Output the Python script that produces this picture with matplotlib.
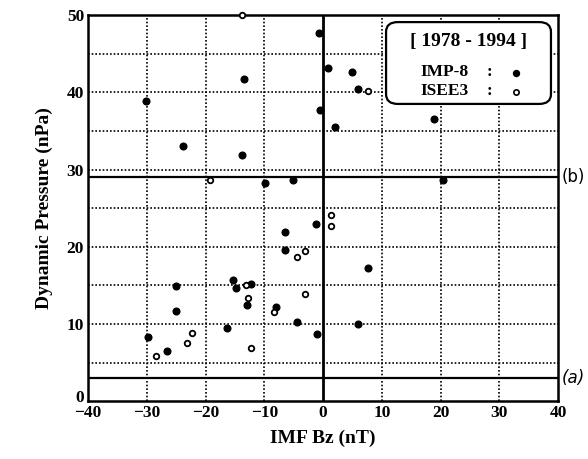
import numpy as np
import matplotlib.pyplot as plt
import matplotlib.transforms as mtransforms
from matplotlib.patches import FancyBboxPatch

# IMP-8 (filled) points
imp8_bz = [-0.7, 0.8, -13.5, -0.6, -30.1, -23.8, -13.8, -9.9, -5.2, 5.0, 6.0, 2.0,
           18.9, 20.5, -1.2, -6.5, -6.5, -25.1, -15.3, -14.9, -12.2, -13.0, -8.0,
           -25.1, -4.4, -16.3, -29.8, -26.6, -1.0, 7.7, 6.0]
imp8_p = [47.7, 43.1, 41.7, 37.7, 38.9, 33.0, 31.9, 28.3, 28.6, 42.6, 40.4, 35.5,
          36.5, 28.6, 22.9, 21.9, 19.6, 14.9, 15.7, 14.6, 15.2, 12.5, 12.2,
          11.7, 10.2, 9.5, 8.3, 6.5, 8.7, 17.2, 10.0]

# ISEE3 (open) points
isee_bz = [-13.8, -19.3, 7.6, -4.5, -3.1, -13.2, -12.8, -3.1, -8.4, -22.3, -23.2,
           -28.4, -12.2, 1.4, 1.4]
isee_p = [50.0, 28.6, 40.2, 18.7, 19.5, 15.0, 13.4, 13.9, 11.5, 8.8, 7.5,
          5.8, 6.9, 24.1, 22.7]

line_a = 3.0
line_b = 29.0

xticks = [-40, -30, -20, -10, 0, 10, 20, 30, 40]
yticks = [0, 10, 20, 30, 40, 50]

font = 'Liberation Serif'

fig = plt.figure(figsize=(5.88, 4.59), dpi=100)
ax = fig.add_axes([0.150, 0.126, 0.799, 0.841])

ax.set_xlim(-40, 40)
ax.set_ylim(0, 50)

# dotted grid
for x in range(-30, 40, 10):
    if x != 0:
        ax.axvline(x, color='black', lw=1.2, ls=(0, (1, 1.2)), zorder=1)
for y in range(5, 50, 5):
    ax.axhline(y, color='black', lw=1.2, ls=(0, (1, 1.2)), zorder=1)

ax.axvline(0, color='black', lw=2, zorder=2)
ax.axhline(line_a, color='black', lw=1.6, zorder=2)
ax.axhline(line_b, color='black', lw=1.6, zorder=2)

ax.plot(imp8_bz, imp8_p, 'o', color='black', ms=4.8, ls='none', zorder=3, clip_on=False)
ax.plot(isee_bz, isee_p, 'o', mfc='white', mec='black', mew=1.3, ms=4.0, ls='none',
        zorder=3, clip_on=False)

ax.set_xticks(xticks)
ax.set_yticks(yticks)
ax.tick_params(length=0, pad=3)
for lab in ax.get_xticklabels() + ax.get_yticklabels():
    lab.set_fontfamily(font)
    lab.set_fontweight('bold')
    lab.set_fontsize(12.5)
# lift the y "0" a bit so it clears the "-40"
zero = ax.get_yticklabels()[0]
zero.set_transform(zero.get_transform() + mtransforms.ScaledTranslation(0, 4 / 72, fig.dpi_scale_trans))

for s in ax.spines.values():
    s.set_linewidth(1.8)

ax.set_xlabel('IMF Bz (nT)', fontfamily=font, fontweight='bold', fontsize=14, labelpad=6)
ax.set_ylabel('Dynamic Pressure (nPa)', fontfamily=font, fontweight='bold', fontsize=14,
              labelpad=10)

# legend box
box = FancyBboxPatch((0.634, 0.770), 0.351, 0.212, boxstyle='round,pad=0,rounding_size=0.025',
                     transform=ax.transAxes, fc='white', ec='black', lw=1.6, zorder=5)
ax.add_patch(box)
ax.text(0.809, 0.932, '[ 1978 - 1994 ]', transform=ax.transAxes, ha='center', va='center',
        fontfamily=font, fontweight='bold', fontsize=14, zorder=6)
ax.text(0.708, 0.852, 'IMP-8', transform=ax.transAxes, ha='left', va='center',
        fontfamily=font, fontweight='bold', fontsize=12.5, zorder=6)
ax.text(0.708, 0.803, 'ISEE3', transform=ax.transAxes, ha='left', va='center',
        fontfamily=font, fontweight='bold', fontsize=12.5, zorder=6)
ax.text(0.853, 0.852, ':', transform=ax.transAxes, ha='center', va='center',
        fontfamily=font, fontweight='bold', fontsize=12.5, zorder=6)
ax.text(0.853, 0.803, ':', transform=ax.transAxes, ha='center', va='center',
        fontfamily=font, fontweight='bold', fontsize=12.5, zorder=6)
ax.plot([0.911], [0.850], 'o', color='black', ms=4.3, transform=ax.transAxes, zorder=6)
ax.plot([0.911], [0.800], 'o', mfc='white', mec='black', mew=1.2, ms=3.8,
        transform=ax.transAxes, zorder=6)

# hand-written tags
ax.text(40.6, line_b, '(b)', ha='left', va='center', fontsize=12, fontfamily='DejaVu Sans',
        clip_on=False)
ax.text(40.6, line_a, '(a)', ha='left', va='center', fontsize=12, fontfamily='DejaVu Sans',
        style='italic', clip_on=False)

fig.savefig('out.png', dpi=100)
